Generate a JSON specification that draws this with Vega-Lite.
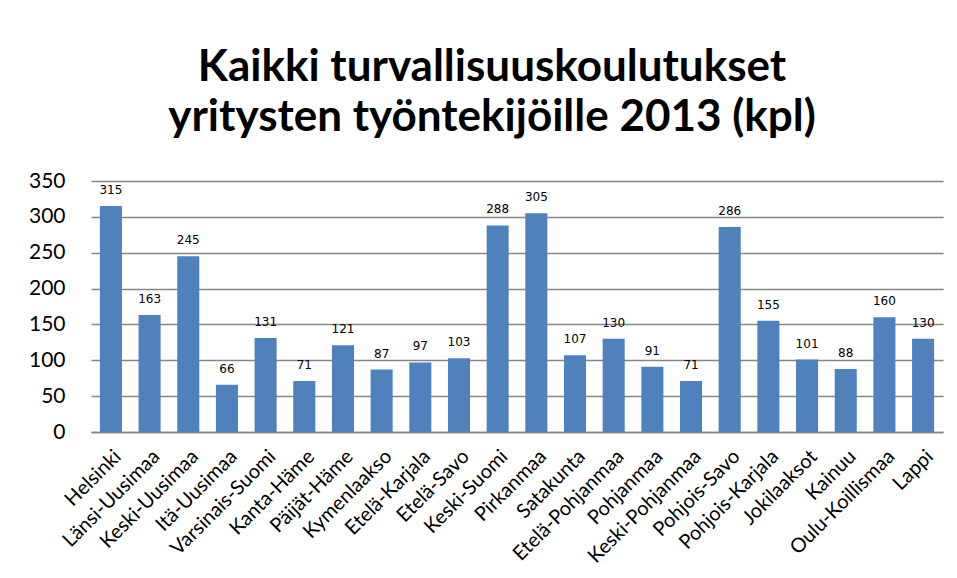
{
  "$schema": "https://vega.github.io/schema/vega-lite/v6.json",
  "autosize": {"type": "none"},
  "width": 852,
  "height": 251,
  "padding": {"left": 91, "top": 181, "right": 14, "bottom": 146},
  "background": "white",
  "title": {
    "text": ["Kaikki turvallisuuskoulutukset", "yritysten työntekijöille 2013 (kpl)"],
    "font": "Lato",
    "fontSize": 44,
    "fontWeight": "bold",
    "color": "#000000",
    "anchor": "middle",
    "dx": -25,
    "offset": 30,
    "lineHeight": 50
  },
  "data": {
    "values": [
      {"region": "Helsinki", "value": 315},
      {"region": "Länsi-Uusimaa", "value": 163},
      {"region": "Keski-Uusimaa", "value": 245},
      {"region": "Itä-Uusimaa", "value": 66},
      {"region": "Varsinais-Suomi", "value": 131},
      {"region": "Kanta-Häme", "value": 71},
      {"region": "Päijät-Häme", "value": 121},
      {"region": "Kymenlaakso", "value": 87},
      {"region": "Etelä-Karjala", "value": 97},
      {"region": "Etelä-Savo", "value": 103},
      {"region": "Keski-Suomi", "value": 288},
      {"region": "Pirkanmaa", "value": 305},
      {"region": "Satakunta", "value": 107},
      {"region": "Etelä-Pohjanmaa", "value": 130},
      {"region": "Pohjanmaa", "value": 91},
      {"region": "Keski-Pohjanmaa", "value": 71},
      {"region": "Pohjois-Savo", "value": 286},
      {"region": "Pohjois-Karjala", "value": 155},
      {"region": "Jokilaaksot", "value": 101},
      {"region": "Kainuu", "value": 88},
      {"region": "Oulu-Koillismaa", "value": 160},
      {"region": "Lappi", "value": 130}
    ]
  },
  "encoding": {
    "x": {
      "field": "region",
      "type": "nominal",
      "sort": null,
      "title": null,
      "scale": {"paddingInner": 0.43, "paddingOuter": 0.23},
      "axis": {
        "labelAngle": -45,
        "labelFont": "Lato",
        "labelFontSize": 20,
        "labelColor": "#000000",
        "ticks": false,
        "domainColor": "#868686",
        "domainWidth": 1.5,
        "labelPadding": 14,
        "grid": false
      }
    },
    "y": {
      "field": "value",
      "type": "quantitative",
      "title": null,
      "scale": {"domain": [0, 350], "nice": false},
      "axis": {
        "values": [0, 50, 100, 150, 200, 250, 300, 350],
        "labelFont": "Lato",
        "labelFontSize": 21,
        "labelColor": "#000000",
        "labelPadding": 26,
        "ticks": false,
        "domain": false,
        "grid": true,
        "gridColor": "#868686",
        "gridWidth": 1.5
      }
    }
  },
  "layer": [
    {"mark": {"type": "bar", "color": "#4F81BD"}},
    {
      "mark": {"type": "text", "dy": -16, "font": "DejaVu Sans", "fontSize": 12, "color": "#000000", "baseline": "middle"},
      "encoding": {"text": {"field": "value", "type": "quantitative"}}
    }
  ],
  "config": {"view": {"stroke": null}}
}
